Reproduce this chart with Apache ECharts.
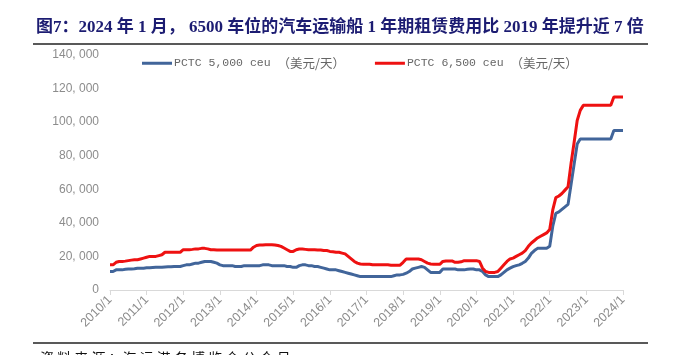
<!DOCTYPE html>
<html><head><meta charset="utf-8">
<script src="https://cdn.jsdelivr.net/npm/echarts@6/dist/echarts.min.js"></script>
<style>html,body{margin:0;padding:0;background:#fff}#c{width:674px;height:355px}</style>
</head><body><div id="c"></div>
<script>
// monthly, 2010/1 .. 2024/1
const years = [2010,2011,2012,2013,2014,2015,2016,2017,2018,2019,2020,2021,2022,2023,2024];
const seriesNames = ['PCTC 5,000 ceu （美元/天）', 'PCTC 6,500 ceu （美元/天）'];
const pctc5000 = [
  11000,11000,12000,12000,12000,12300,12500,12500,12700,13000,13000,13000,
  13200,13300,13400,13500,13500,13500,13700,13800,13800,14000,14000,14000,
  14500,15000,15000,15500,16000,16000,16500,17000,17000,17000,16500,16000,
  15000,14500,14500,14500,14500,14000,14000,14000,14500,14500,14500,14500,
  14500,14500,15000,15000,15000,14500,14500,14500,14500,14500,14000,14000,
  13500,13500,14500,15000,15000,14500,14500,14000,14000,13500,13000,12500,
  12000,12000,12000,11500,11000,10500,10000,9500,9000,8500,8000,8000,
  8000,8000,8000,8000,8000,8000,8000,8000,8000,8500,9000,9000,
  9300,10000,11000,12500,13000,13500,14000,13500,12000,10500,10500,10500,
  10500,12500,12500,12500,12500,12500,12000,12000,12000,12300,12500,12500,
  12000,12000,11000,9000,8000,8000,8000,8000,9000,10500,12000,13000,
  13900,14500,15000,15900,17000,19000,21800,23500,24800,24800,24800,24800,
  26000,38000,45700,46500,48000,49500,51000,63000,75000,87000,90000,90000,
  90000,90000,90000,90000,90000,90000,90000,90000,90000,95000,95000,95000,
  95000
];
const pctc6500 = [
  15000,15000,16500,17000,17000,17200,17500,17800,18000,18000,18500,19000,
  19500,20000,20000,20000,20500,21000,22500,22500,22500,22500,22500,22500,
  24000,24000,24000,24200,24500,24500,24800,24800,24500,24000,24000,23800,
  23800,23800,23800,23800,23800,23800,23800,23800,23800,23800,23800,25500,
  26500,26800,26800,27000,27000,27000,26800,26500,26000,25000,24000,23000,
  23000,24000,24400,24400,24200,24000,24000,24000,23800,23800,23500,23500,
  23000,22800,22500,22500,22000,21500,20000,18500,17000,16000,15500,15300,
  15300,15300,15000,15000,15000,15000,15000,15000,14800,14800,14800,14800,
  16500,18500,18500,18500,18500,18500,18000,17000,16000,15500,15300,15300,
  15300,17000,17300,17300,17300,16500,16500,16800,17500,17500,17500,17500,
  17500,17000,13000,11000,10500,10500,10500,11000,13000,15000,17000,18500,
  19000,20000,21000,22000,23500,26000,28000,29500,31000,32000,33000,34000,
  36000,47700,55000,56000,57500,59500,61500,75600,88000,101000,107000,110000,
  110000,110000,110000,110000,110000,110000,110000,110000,110000,115000,115000,115000,
  115000
];
const yTicks = [0,20000,40000,60000,80000,100000,120000,140000];

const categories = [];
years.forEach(y => { for (let m = 1; m <= 12; m++) { if (categories.length < pctc5000.length) categories.push(y + '/' + m); } });

const chart = echarts.init(document.getElementById('c'));
const mono = '"Liberation Mono",monospace';
const sans = '"Liberation Sans",sans-serif';
chart.setOption({
  animation: false,
  backgroundColor: '#fff',
  grid: {left: 110, right: 51, top: 55, bottom: 65},
  legend: {
    left: 137, top: 52, itemGap: 30, itemWidth: 30, itemHeight: 3, icon: 'rect',
    formatter: n => {
      const i = n.indexOf('（');
      return '{a|' + n.slice(0, i) + '}{b|' + n.slice(i) + '}';
    },
    textStyle: {color: '#666', padding: [0,0,0,-3],
      rich: {a: {fontFamily: mono, fontSize: 11.5, color: '#666'},
             b: {fontFamily: '"Noto Sans CJK SC",sans-serif', fontSize: 12.5, color: '#666'}}},
    data: seriesNames
  },
  xAxis: {
    type: 'category', data: categories, boundaryGap: false,
    axisLine: {lineStyle: {color: '#d9d9d9'}},
    axisTick: {interval: 11, length: 5, lineStyle: {color: '#d9d9d9'}},
    axisLabel: {interval: 11, rotate: 45, color: '#8c8c8c', fontFamily: sans, fontSize: 12.5, margin: 8}
  },
  yAxis: {
    type: 'value', min: yTicks[0], max: yTicks[yTicks.length-1], interval: 20000,
    axisLine: {show: false}, axisTick: {show: false}, splitLine: {show: false},
    axisLabel: {color: '#8c8c8c', fontFamily: sans, fontSize: 12, margin: 11,
      formatter: v => v.toLocaleString('en-US').replace(',', ', ')}
  },
  series: [
    {name: seriesNames[0], type: 'line', data: pctc5000, showSymbol: false, symbol: 'none',
      lineStyle: {color: '#41659a', width: 3}, itemStyle: {color: '#41659a'}},
    {name: seriesNames[1], type: 'line', data: pctc6500, showSymbol: false, symbol: 'none',
      lineStyle: {color: '#ee1111', width: 3}, itemStyle: {color: '#ee1111'}}
  ],
  graphic: [
    {type: 'text', left: 36, top: 19, style: {
      text: '图7：2024 年 1 月， 6500 车位的汽车运输船 1 年期租赁费用比 2019 年提升近 7 倍',
      font: 'bold 17px "Liberation Serif","Noto Sans CJK SC",serif', fill: '#1c1c72'}},
    {type: 'line', shape: {x1: 33, y1: 44, x2: 648, y2: 44}, style: {stroke: '#222', lineWidth: 1.5}},
    {type: 'line', shape: {x1: 33, y1: 343, x2: 648, y2: 343}, style: {stroke: '#222', lineWidth: 1.5}},
    {type: 'text', left: 40, top: 351, style: {
      text: '资 料 来 源 ：海 运 港 务 博 览 会 公 众 号',
      font: '14px "Noto Sans CJK SC",sans-serif', fill: '#111'}}
  ]
});
</script></body></html>
